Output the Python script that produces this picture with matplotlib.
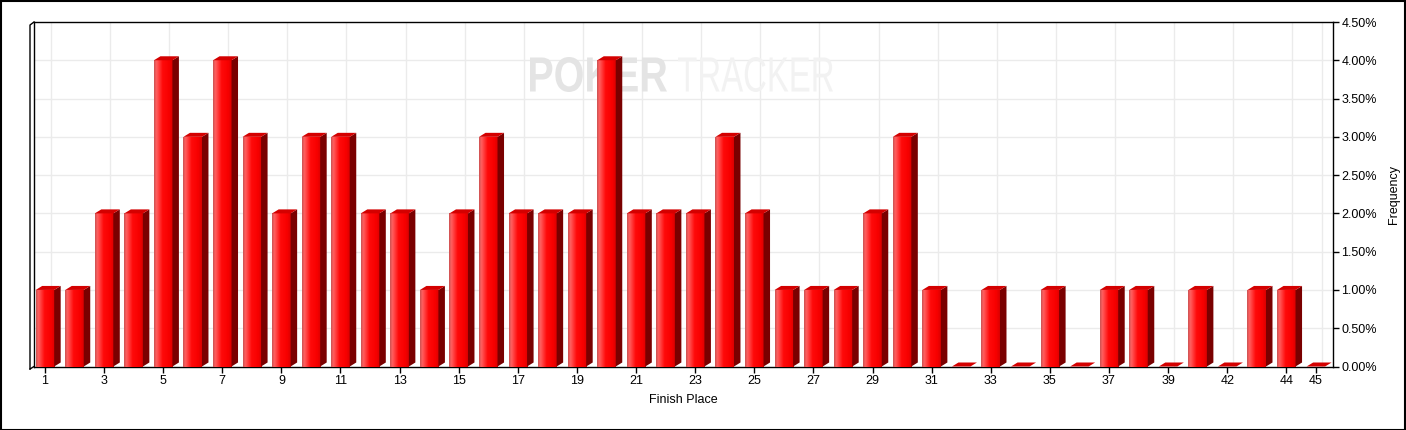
import matplotlib
matplotlib.use("Agg")
import matplotlib.pyplot as plt
import numpy as np
from matplotlib.patches import Polygon, PathPatch, Rectangle
from matplotlib.lines import Line2D
from matplotlib.textpath import TextPath
from matplotlib.font_manager import FontProperties
from matplotlib.transforms import Affine2D, ScaledTranslation
from matplotlib.ticker import FuncFormatter

places = [str(i) for i in range(1, 41)] + ["42", "43", "44", "45"]
frequency = [1, 1, 2, 2, 4, 3, 4, 3, 2, 3,
             3, 2, 2, 1, 2, 3, 2, 2, 2, 4,
             2, 2, 2, 3, 2, 1, 1, 1, 2, 3,
             1, 0, 1, 0, 1, 0, 1, 1, 0, 1,
             0, 1, 1, 0]
y_ticks = [0, 0.5, 1, 1.5, 2, 2.5, 3, 3.5, 4, 4.5]

W, H, DPI = 1406, 430, 100
plt.rcParams["font.family"] = ["Liberation Sans", "DejaVu Sans"]

fig = plt.figure(figsize=(W / DPI, H / DPI), dpi=DPI, facecolor="white")


def fx(px):
    return px / W


def fy(py):
    return 1 - py / H


ax_l, ax_r, ax_t, ax_b = 34, 1333, 22, 366.5
ax = fig.add_axes([fx(ax_l), fy(ax_b), (ax_r - ax_l) / W, (ax_b - ax_t) / H])
ax.set_facecolor("none")

n = len(places)
x = np.arange(n)
xmin, xmax = -0.37, n - 1 + 0.58
ax.set_xlim(xmin, xmax)
ax.set_ylim(0, 4.5)

px_per_x = (ax_r - ax_l) / (xmax - xmin)
px_per_y = (ax_b - ax_t) / 4.5
dx = 6.5 / px_per_x
dy = 4 / px_per_y
bw = 18.5 / px_per_x

tick_idx = list(range(0, n - 1, 2)) + [n - 1]

# grid on the back wall
off = ScaledTranslation(6 / DPI, 0, fig.dpi_scale_trans)
for yv in y_ticks[1:-1]:
    ax.axhline(yv, color="#ebebeb", lw=1, zorder=0.5)
for i in tick_idx:
    ax.plot([i, i], [0, 1], color="#ebebeb", lw=1, zorder=0.5,
            transform=ax.get_xaxis_transform() + off)


# watermark
def watermark(text, x0, x1, ytop, ybot, color, weight):
    tp = TextPath((0, 0), text, size=50, prop=FontProperties(family="Liberation Sans", weight=weight))
    ext = tp.get_extents()
    tr = (Affine2D().translate(-ext.x0, -ext.y0)
          .scale((x1 - x0) / ext.width / DPI, (ybot - ytop) / ext.height / DPI)
          .translate(x0 / DPI, (H - ybot) / DPI) + fig.dpi_scale_trans)
    ax.add_artist(PathPatch(tp, transform=tr, facecolor=color, edgecolor="none", zorder=1, clip_on=False))


watermark("POKER", 530, 667, 57, 92, "#e4e4e4", "bold")
watermark("TRACKER", 678, 833, 57, 92, "#f2f2f2", "normal")

# 3D-looking bars
stops = np.array([0, 0.12, 0.45, 0.8, 1.0])
cols = np.array([[0.80, 0.32, 0.32], [1.0, 0.38, 0.38], [1.0, 0.04, 0.04], [0.97, 0.0, 0.0], [0.86, 0.0, 0.0]])
t = np.linspace(0, 1, 64)
grad = np.stack([np.interp(t, stops, cols[:, k]) for k in range(3)], axis=-1)[None, :, :]

for xi, v in zip(x, frequency):
    l, r = xi - bw / 2, xi + bw / 2
    if v > 0:
        ax.imshow(grad, extent=(l, r, 0, v), aspect="auto", zorder=3, interpolation="bilinear")
        ax.add_patch(Polygon([(r, 0), (r + dx, dy), (r + dx, v + dy), (r, v)],
                             closed=True, facecolor="#7a0000", edgecolor="none", zorder=3))
    ax.add_patch(Polygon([(l, v), (r, v), (r + dx, v + dy), (l + dx, v + dy)],
                         closed=True, facecolor="#d40000", edgecolor="none", zorder=3))

ax.set_xlim(xmin, xmax)
ax.set_ylim(0, 4.5)

# axes styling
for s in ["left", "right", "top", "bottom"]:
    ax.spines[s].set_color("black")
    ax.spines[s].set_linewidth(1)
ax.yaxis.tick_right()
ax.yaxis.set_label_position("right")
ax.set_yticks(y_ticks)
ax.yaxis.set_major_formatter(FuncFormatter(lambda v, p: f"{v:.2f}%"))
ax.set_xticks(tick_idx)
ax.set_xticklabels([places[i] for i in tick_idx])
ax.tick_params(axis="both", length=4, width=1, color="black", labelsize=9, pad=2)
ax.set_xlabel("Finish Place", fontsize=9, labelpad=5)
ax.set_ylabel("Frequency", fontsize=9, labelpad=8)

# left wall edge
fig.add_artist(Line2D([fx(30), fx(30), fx(34)], [fy(369), fy(25), fy(ax_t)], color="black", lw=1))
fig.add_artist(Line2D([fx(30), fx(34)], [fy(369), fy(ax_b)], color="black", lw=1))

# outer frame
fig.add_artist(Rectangle((0.5 / W, 0.5 / H), 1 - 1.5 / W, 1 - 1.5 / H, transform=fig.transFigure,
                         fill=False, edgecolor="black", lw=1.5))

fig.savefig("out.png", dpi=DPI)
